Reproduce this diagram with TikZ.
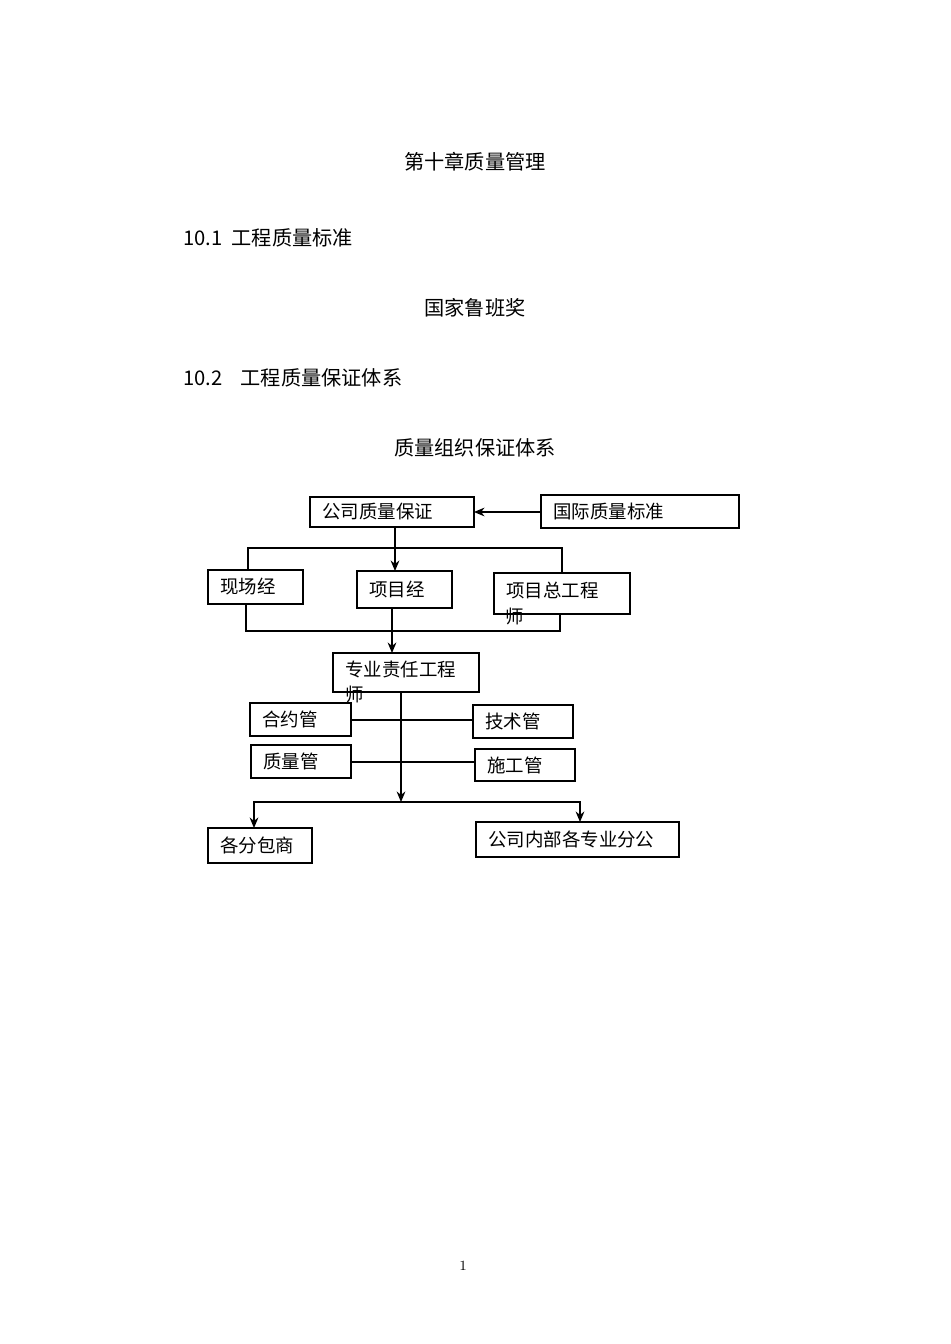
\documentclass[tikz,border=0pt]{standalone}
\usepackage{fontspec}
\newfontfamily\cjk{Noto Sans CJK SC}
\usetikzlibrary{arrows.meta}
\begin{document}
\begin{tikzpicture}[x=0.02cm,y=-0.02cm,
  bx/.style={draw,thick,inner sep=0pt},
  tx/.style={font=\cjk\fontsize{10.5}{12}\selectfont,anchor=west,inner sep=0pt},
  hd/.style={font=\cjk\fontsize{11.5}{13}\selectfont,inner sep=0pt},
  ln/.style={line width=0.7pt},
  ar/.style={ln,-{Stealth[length=6pt,width=5pt]}}]
\useasboundingbox (0,0) rectangle (950,1344);
\node[hd] (t1) at (475,162) {第十章质量管理};
\node[hd,anchor=west] (t2) at (183,238) {10.1\ \ 工程质量标准};
\node[hd] (t3) at (475,308) {国家鲁班奖};
\node[hd,anchor=west] (t4) at (183,378) {10.2\ \ \ \ 工程质量保证体系};
\node[hd] (t5) at (475,448) {质量组织保证体系};
\node[font=\fontsize{8}{9}\selectfont] (pg) at (463,1266) {1};
% boxes
\newcommand{\bbox}[6]{\draw[bx] (#2,#3) rectangle (#4,#5); \node[tx] (#1) at (#2+12,{(#3+#5)/2}) {#6};}
\bbox{a}{310}{497}{474}{527}{公司质量保证}
\bbox{b}{541}{495}{739}{528}{国际质量标准}
\bbox{c}{208}{570}{303}{604}{现场经}
\bbox{d}{357}{571}{452}{608}{项目经}
\draw[bx] (494,573) rectangle (630,614);
\node[tx] (e) at (506,590) {项目总工程};
\node[tx] (e2) at (505,616) {师};
\draw[bx] (333,653) rectangle (479,692);
\node[tx] (f) at (345,669) {专业责任工程};
\node[tx] (f2) at (345,694) {师};
\bbox{g}{250}{703}{351}{736}{合约管}
\bbox{h}{473}{705}{573}{738}{技术管}
\bbox{i}{251}{745}{351}{778}{质量管}
\bbox{j}{475}{749}{575}{781}{施工管}
\bbox{k}{208}{828}{312}{863}{各分包商}
\bbox{l}{476}{822}{679}{857}{公司内部各专业分公}
% connectors
\coordinate (m) at (401,802);
\draw[ar] (541,512) -- (474,512);
\draw[ar] (395,527) -- (395,571);
\draw[ln] (248,570) -- (248,548) -- (562,548) -- (562,573);
\draw[ln] (246,604) -- (246,631) -- (560,631) -- (560,614);
\draw[ar] (392,608) -- (392,653);
\draw[ar] (401,692) -- (m);
\draw[ln] (351,720) -- (473,720);
\draw[ln] (351,762) -- (475,762);
\draw[ar] (m) -- (254,802) -- (254,828);
\draw[ar] (m) -- (580,802) -- (580,822);
\end{tikzpicture}
\end{document}
